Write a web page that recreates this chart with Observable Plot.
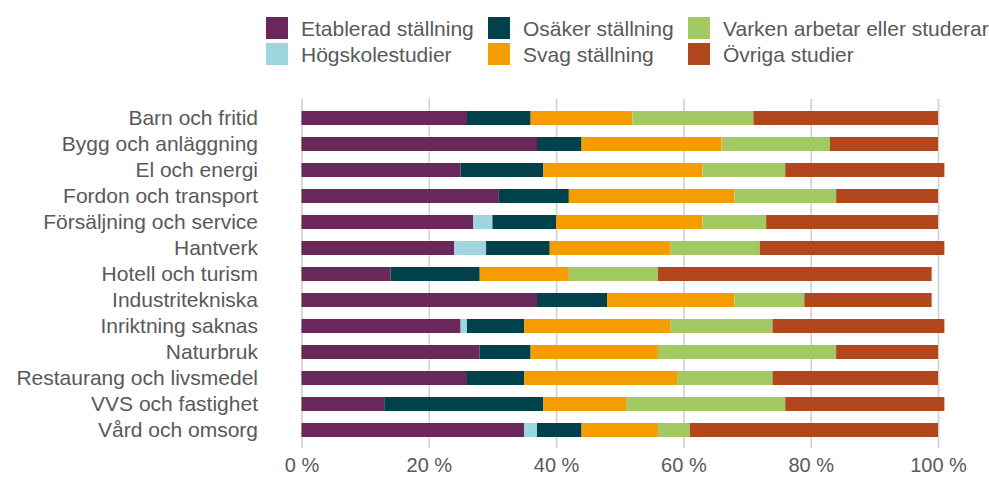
<!DOCTYPE html>
<html>
<head>
<meta charset="utf-8">
<script src="https://cdn.jsdelivr.net/npm/d3@7"></script>
<script src="https://cdn.jsdelivr.net/npm/@observablehq/plot@0.6"></script>
<style>
  html, body { margin: 0; padding: 0; background: #fff; width: 989px; height: 477px; overflow: hidden; }
  body { font-family: "Liberation Sans", Arial, sans-serif; color: #595959; }
  #legend { position: relative; width: 989px; height: 80px; overflow: hidden; }
  .sw { position: absolute; width: 22px; height: 22px; }
  .lt { position: absolute; font-size: 21px; line-height: 22px; white-space: nowrap; }
  #chart svg { display: block; }
</style>
</head>
<body>
<div id="legend"></div>
<div id="chart"></div>
<script>
const categories = ["Barn och fritid", "Bygg och anläggning", "El och energi", "Fordon och transport", "Försäljning och service", "Hantverk", "Hotell och turism", "Industritekniska", "Inriktning saknas", "Naturbruk", "Restaurang och livsmedel", "VVS och fastighet", "Vård och omsorg"];
const seriesNames = ["Etablerad ställning", "Högskolestudier", "Osäker ställning", "Svag ställning", "Varken arbetar eller studerar", "Övriga studier"];
const colors = ["#69275a", "#9ed5df", "#01414c", "#f59c00", "#a3c962", "#b2461c"];
const etablerad = [26, 37, 25, 31, 27, 24, 14, 37, 25, 28, 26, 13, 35];
const hogskole  = [0, 0, 0, 0, 3, 5, 0, 0, 1, 0, 0, 0, 2];
const osaker    = [10, 7, 13, 11, 10, 10, 14, 11, 9, 8, 9, 25, 7];
const svag      = [16, 22, 25, 26, 23, 19, 14, 20, 23, 20, 24, 13, 12];
const varken    = [19, 17, 13, 16, 10, 14, 14, 11, 16, 28, 15, 25, 5];
const ovriga    = [29, 17, 25, 16, 27, 29, 43, 20, 27, 16, 26, 25, 39];
const xTicks = [0, 20, 40, 60, 80, 100];
const legendOrder = ["Etablerad ställning", "Osäker ställning", "Varken arbetar eller studerar", "Högskolestudier", "Svag ställning", "Övriga studier"];

const seriesValues = [etablerad, hogskole, osaker, svag, varken, ovriga];
const data = [];
seriesNames.forEach((s, si) => {
  categories.forEach((c, ci) => {
    data.push({category: c, series: s, value: seriesValues[si][ci]});
  });
});

// Legend (HTML above the SVG)
const legend = document.getElementById("legend");
const colX = [266, 488, 688];
const rowY = [17, 43];
legendOrder.forEach((s, i) => {
  const col = i % 3, row = Math.floor(i / 3);
  const sw = document.createElement("div");
  sw.className = "sw";
  sw.style.left = colX[col] + "px";
  sw.style.top = rowY[row] + "px";
  sw.style.background = colors[seriesNames.indexOf(s)];
  legend.appendChild(sw);
  const t = document.createElement("div");
  t.className = "lt";
  t.style.left = (colX[col] + 35) + "px";
  t.style.top = (rowY[row] + 1) + "px";
  t.textContent = s;
  legend.appendChild(t);
});

const chart = Plot.plot({
  width: 989,
  height: 397,
  marginTop: 19,
  marginBottom: 29,
  marginLeft: 301.5,
  marginRight: 51,
  style: {fontFamily: "'Liberation Sans', Arial, sans-serif", fontSize: "21px", color: "#595959", background: "#fff"},
  x: {domain: [0, 100], label: null},
  y: {domain: categories, paddingInner: 0.47, paddingOuter: 0.328, label: null},
  color: {domain: seriesNames, range: colors},
  marks: [
    Plot.ruleX(xTicks, {stroke: "#d0d0d0", strokeWidth: 1.6}),
    Plot.barX(data, Plot.stackX({x: "value", y: "category", fill: "series", order: null})),
    Plot.axisX({ticks: xTicks, tickFormat: d => d + " %", tickSize: 0, tickPadding: 9, fontSize: 20}),
    Plot.axisY({tickSize: 0, tickPadding: 44, fontSize: 21})
  ]
});
document.getElementById("chart").appendChild(chart);
</script>
</body>
</html>
